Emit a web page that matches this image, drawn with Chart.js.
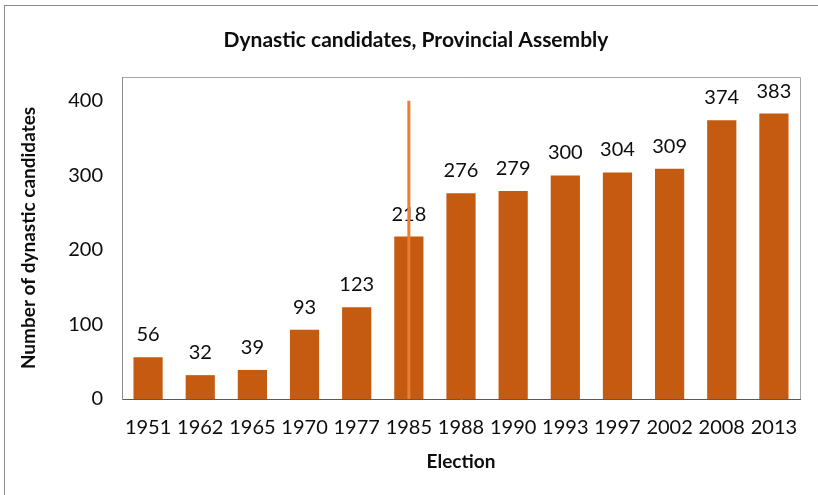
<!DOCTYPE html>
<html>
<head>
<meta charset="utf-8">
<script src="https://cdn.jsdelivr.net/npm/chart.js@4"></script>
<style>
  html, body { margin: 0; padding: 0; background: #fff; overflow: hidden; }
  #wrap { width: 818px; height: 495px; position: relative; }
</style>
</head>
<body>
<div id="wrap"><canvas id="chart" width="818" height="495"></canvas></div>
<script>
const elections = ['1951', '1962', '1965', '1970', '1977', '1985', '1988', '1990', '1993', '1997', '2002', '2008', '2013'];
const candidates = [56, 32, 39, 93, 123, 218, 276, 279, 300, 304, 309, 374, 383];
const yTicks = [0, 100, 200, 300, 400];

// vertical marker at the 1985 election, running from 0 up to 400
const markerYear = '1985';
const markerRange = [0, 400];

const chartTitle = 'Dynastic candidates, Provincial Assembly';

const FONT = 'Lato, "Open Sans", sans-serif';

const frameAndLabels = {
  id: 'frameAndLabels',
  beforeDraw(chart) {
    const { ctx, chartArea: a } = chart;
    ctx.save();
    // outer chart frame
    ctx.strokeStyle = '#8c8c8c';
    ctx.lineWidth = 1;
    ctx.strokeRect(4.5, 5.5, 900, 600);
    // plot area outline (top and right)
    ctx.strokeStyle = '#a6a6a6';
    ctx.beginPath();
    ctx.moveTo(a.left, Math.round(a.top) + 0.5);
    ctx.lineTo(Math.round(a.right) + 0.5, Math.round(a.top) + 0.5);
    ctx.lineTo(Math.round(a.right) + 0.5, a.bottom);
    ctx.stroke();
    // title, centred over the whole frame rather than the layout box
    ctx.fillStyle = '#0d0d0d';
    ctx.font = 'bold 21px ' + FONT;
    ctx.textAlign = 'center';
    ctx.textBaseline = 'middle';
    ctx.fillText(chartTitle, 416, 40);
    ctx.restore();
  },
  afterDatasetsDraw(chart) {
    const { ctx, scales } = chart;
    const meta = chart.getDatasetMeta(0);
    ctx.save();
    ctx.fillStyle = '#0d0d0d';
    ctx.font = '20px ' + FONT;
    ctx.textAlign = 'center';
    ctx.textBaseline = 'alphabetic';
    meta.data.forEach((bar, i) => {
      ctx.fillText(String(candidates[i]), bar.x, bar.y - 16);
    });
    // marker line
    const x = scales.x.getPixelForValue(elections.indexOf(markerYear));
    ctx.strokeStyle = '#ed7d31';
    ctx.lineWidth = 3;
    ctx.beginPath();
    ctx.moveTo(x, scales.y.getPixelForValue(markerRange[0]));
    ctx.lineTo(x, scales.y.getPixelForValue(markerRange[1]));
    ctx.stroke();
    ctx.restore();
  }
};

new Chart(document.getElementById('chart'), {
  type: 'bar',
  data: {
    labels: elections,
    datasets: [{
      data: candidates,
      backgroundColor: '#c55a11',
      borderWidth: 0,
      barPercentage: 0.56,
      categoryPercentage: 1
    }]
  },
  options: {
    responsive: false,
    animation: false,
    layout: { padding: { left: 0, right: 18, top: 77, bottom: 0 } },
    plugins: {
      legend: { display: false },
      tooltip: { enabled: false },
      title: { display: false }
    },
    scales: {
      x: {
        afterFit(scale) { scale.height = 96; },
        grid: { display: false, drawTicks: false, tickLength: 0 },
        border: { display: true, color: '#595959', width: 1 },
        ticks: {
          color: '#0d0d0d',
          font: { family: FONT, size: 20 },
          padding: 17,
          maxRotation: 0,
          autoSkip: false
        },
        title: {
          display: true,
          text: 'Election',
          color: '#0d0d0d',
          font: { family: FONT, size: 19, weight: 'bold' },
          padding: { top: 8, bottom: 22 }
        }
      },
      y: {
        min: 0,
        max: 432,
        afterBuildTicks(scale) {
          scale.ticks = yTicks.map(v => ({ value: v }));
        },
        afterFit(scale) { scale.width = 122; },
        grid: { display: false, drawTicks: false, tickLength: 0 },
        border: { display: true, color: '#8c8c8c', width: 1 },
        ticks: {
          color: '#0d0d0d',
          font: { family: FONT, size: 20 },
          padding: 19
        },
        title: {
          display: true,
          text: 'Number of dynastic candidates',
          color: '#0d0d0d',
          font: { family: FONT, size: 19, weight: 'bold' },
          padding: { top: 17, bottom: 0 }
        }
      }
    }
  },
  plugins: [frameAndLabels]
});
</script>
</body>
</html>
